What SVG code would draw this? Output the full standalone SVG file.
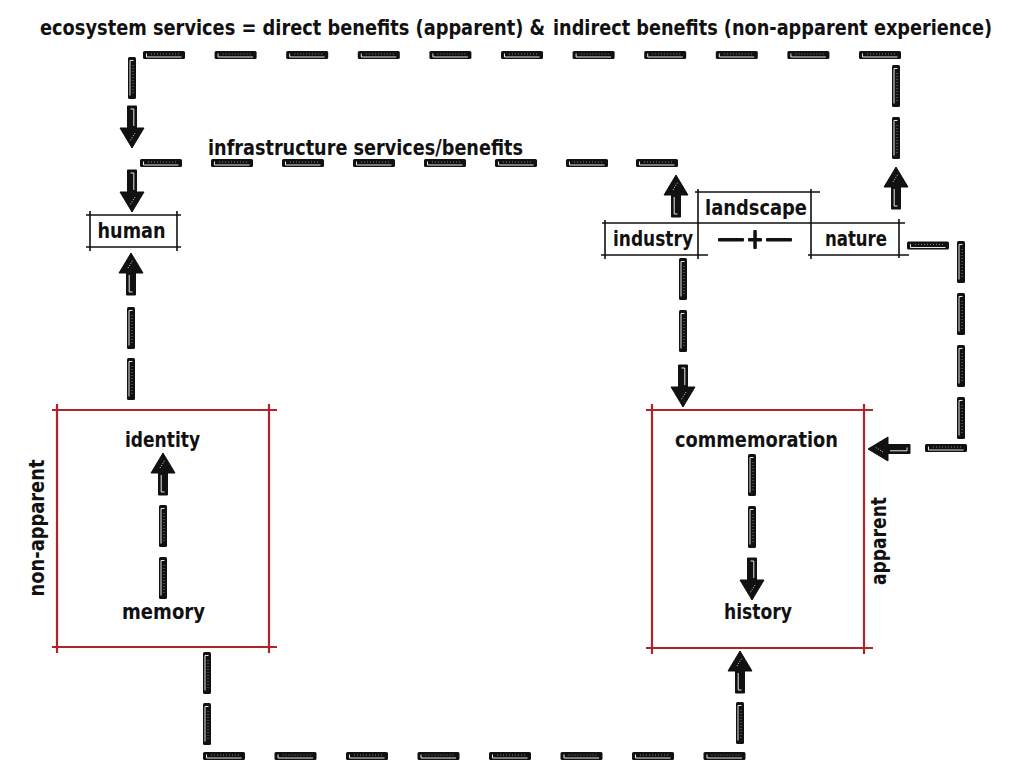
<svg xmlns="http://www.w3.org/2000/svg" xmlns:xlink="http://www.w3.org/1999/xlink" width="1019" height="760" viewBox="0 0 1019 760">
<style>
text{font-family:"Liberation Sans Narrow","DejaVu Sans Condensed","Roboto Condensed","Liberation Sans",sans-serif;font-weight:bold;fill:#111;font-size:22px}
.m{text-anchor:middle}
.t{font-size:20.5px}
.bl{stroke:#111;stroke-width:1.6;fill:none}
.rd{stroke:#b1232b;stroke-width:2.2;fill:none}
.tx{stroke:#fff;stroke-width:0.9;fill:none}
</style>
<defs>
<g id="hd"><rect x="0" y="-4" width="42" height="8" rx="1.5" fill="#111"/><path class="tx" d="M3.5 -1.5 V2 H38.5"/><path d="M8 -1 H38" stroke="#ccc" stroke-width="0.6" stroke-dasharray="1 2"/></g>
<g id="vd"><rect x="-4" y="0" width="8" height="42" rx="1.5" fill="#111"/><path class="tx" d="M1.5 3.5 H-2 V38.5"/><path d="M1 8 V38" stroke="#ccc" stroke-width="0.6" stroke-dasharray="1 2"/></g>
<g id="au"><path d="M0 0 L12 20 L4.5 20 L4.5 42 L-4.5 42 L-4.5 20 L-12 20 Z" fill="#111" stroke="#111" stroke-width="1" stroke-linejoin="round"/><path class="tx" d="M-1.8 22 V39 H1.5"/><path d="M-3 15 L2 7" stroke="#fff" stroke-width="0.8" stroke-dasharray="1 1.5"/></g>
</defs>

<text class="t" x="40" y="35" textLength="505" lengthAdjust="spacingAndGlyphs">ecosystem services = direct benefits (apparent) &amp;</text>
<text class="t" x="553" y="35" textLength="439" lengthAdjust="spacingAndGlyphs">indirect benefits (non-apparent experience)</text>

<g id="connectors">
<use xlink:href="#hd" transform="translate(143,55)"/>
<use xlink:href="#hd" transform="translate(214.6,55)"/>
<use xlink:href="#hd" transform="translate(286.2,55)"/>
<use xlink:href="#hd" transform="translate(357.8,55)"/>
<use xlink:href="#hd" transform="translate(429.4,55)"/>
<use xlink:href="#hd" transform="translate(501,55)"/>
<use xlink:href="#hd" transform="translate(572.6,55)"/>
<use xlink:href="#hd" transform="translate(644.2,55)"/>
<use xlink:href="#hd" transform="translate(715.8,55)"/>
<use xlink:href="#hd" transform="translate(787.4,55)"/>
<use xlink:href="#hd" transform="translate(859,55)"/>
<use xlink:href="#vd" transform="translate(132,57)"/>
<use xlink:href="#au" transform="translate(132,148) rotate(180)"/>
<use xlink:href="#hd" transform="translate(140,163)"/>
<use xlink:href="#hd" transform="translate(211,163)"/>
<use xlink:href="#hd" transform="translate(282,163)"/>
<use xlink:href="#hd" transform="translate(353,163)"/>
<use xlink:href="#hd" transform="translate(424,163)"/>
<use xlink:href="#hd" transform="translate(495,163)"/>
<use xlink:href="#hd" transform="translate(566,163)"/>
<use xlink:href="#hd" transform="translate(636,163)"/>
<use xlink:href="#au" transform="translate(132,212) rotate(180)"/>
<use xlink:href="#au" transform="translate(676,175)"/>
<use xlink:href="#au" transform="translate(131,253)"/>
<use xlink:href="#vd" transform="translate(131,307)"/>
<use xlink:href="#vd" transform="translate(131,358)"/>
<use xlink:href="#au" transform="translate(163,453)"/>
<use xlink:href="#vd" transform="translate(163,505)"/>
<use xlink:href="#vd" transform="translate(163,557)"/>
<use xlink:href="#vd" transform="translate(752,454)"/>
<use xlink:href="#vd" transform="translate(752,506)"/>
<use xlink:href="#au" transform="translate(752,600) rotate(180)"/>
<use xlink:href="#vd" transform="translate(683,258)"/>
<use xlink:href="#vd" transform="translate(683,310)"/>
<use xlink:href="#au" transform="translate(683,407) rotate(180)"/>
<use xlink:href="#vd" transform="translate(896,65)"/>
<use xlink:href="#vd" transform="translate(896,117)"/>
<use xlink:href="#au" transform="translate(896,167)"/>
<use xlink:href="#hd" transform="translate(907,245.5)"/>
<use xlink:href="#vd" transform="translate(961,241)"/>
<use xlink:href="#vd" transform="translate(961,293)"/>
<use xlink:href="#vd" transform="translate(961,345)"/>
<use xlink:href="#vd" transform="translate(961,397)"/>
<use xlink:href="#hd" transform="translate(925,448)"/>
<use xlink:href="#au" transform="translate(868,449) rotate(-90)"/>
<use xlink:href="#vd" transform="translate(207,652)"/>
<use xlink:href="#vd" transform="translate(207,703)"/>
<use xlink:href="#hd" transform="translate(203,756)"/>
<use xlink:href="#hd" transform="translate(274.5,756)"/>
<use xlink:href="#hd" transform="translate(346,756)"/>
<use xlink:href="#hd" transform="translate(417.5,756)"/>
<use xlink:href="#hd" transform="translate(489,756)"/>
<use xlink:href="#hd" transform="translate(560.5,756)"/>
<use xlink:href="#hd" transform="translate(632,756)"/>
<use xlink:href="#hd" transform="translate(703.5,756)"/>
<use xlink:href="#vd" transform="translate(740,702)"/>
<use xlink:href="#au" transform="translate(740,651)"/>
</g>

<text x="208" y="155" textLength="315" lengthAdjust="spacingAndGlyphs">infrastructure services/benefits</text>

<g id="human">
<path class="bl" d="M86 215 H181 M86 247 H181 M90 211 V251 M177 211 V251"/>
<text class="m" x="131.5" y="238" textLength="68" lengthAdjust="spacingAndGlyphs">human</text>
</g>

<g id="landscape">
<path class="bl" d="M695 192 H820 M698 189 V259 M811 189 V259 M602 223 H905"/>
<text class="m" x="756" y="215" textLength="102" lengthAdjust="spacingAndGlyphs">landscape</text>
<rect x="718" y="238" width="26" height="3.5" rx="1" fill="#111"/>
<rect x="766" y="238" width="26" height="3.5" rx="1" fill="#111"/>
<rect x="748" y="238" width="14" height="3.5" rx="1" fill="#111"/>
<rect x="753.3" y="230" width="3.5" height="19" rx="1" fill="#111"/>
</g>

<g id="industry">
<path class="bl" d="M601 255 H708 M605 220 V259"/>
<text class="m" x="653" y="246" textLength="80" lengthAdjust="spacingAndGlyphs">industry</text>
</g>

<g id="nature">
<path class="bl" d="M808 255 H909 M899 219 V258"/>
<text class="m" x="856" y="246" textLength="62" lengthAdjust="spacingAndGlyphs">nature</text>
</g>

<g id="non-apparent-box">
<path class="rd" d="M52 410 H277 M52 647 H277 M57 404 V653 M269 404 V653"/>
<text class="m" x="162.5" y="447" textLength="75" lengthAdjust="spacingAndGlyphs">identity</text>
<text class="m" x="163.5" y="619" textLength="83" lengthAdjust="spacingAndGlyphs">memory</text>
<text class="m" transform="translate(44,528) rotate(-90)" textLength="137" lengthAdjust="spacingAndGlyphs">non-apparent</text>
</g>

<g id="apparent-box">
<path class="rd" d="M646 410 H873 M646 648 H873 M652 404 V654 M864 404 V654"/>
<text class="m" x="756.5" y="447" textLength="163" lengthAdjust="spacingAndGlyphs">commemoration</text>
<text class="m" x="758" y="619" textLength="68" lengthAdjust="spacingAndGlyphs">history</text>
<text class="m" transform="translate(886,541) rotate(-90)" textLength="88" lengthAdjust="spacingAndGlyphs">apparent</text>
</g>
</svg>
